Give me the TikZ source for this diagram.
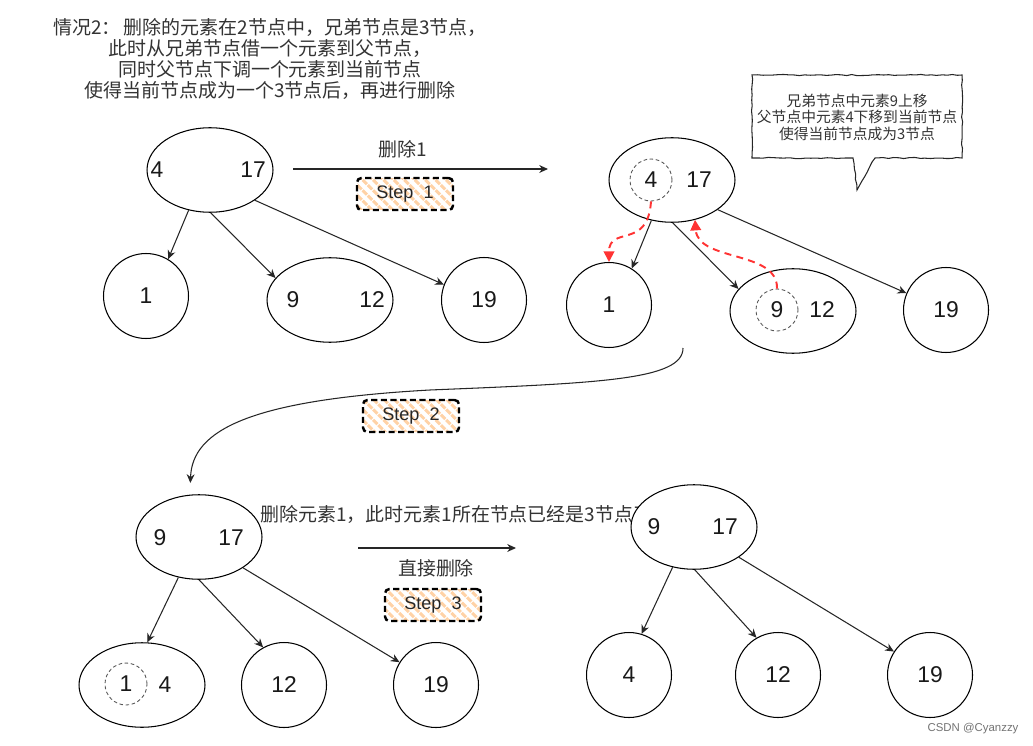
\documentclass[tikz,border=0pt]{standalone}
\usepackage{fontspec}
\setmainfont{Liberation Sans}
\newfontfamily\cjk{Noto Sans CJK SC}
\usetikzlibrary{positioning, shapes.geometric, arrows.meta, patterns.meta, decorations.pathmorphing}

\begin{document}
\begin{tikzpicture}[x=0.02cm, y=-0.02cm,
    big/.style={ellipse, draw, line width=0.6pt, fill=white,
      minimum width=2.52cm, minimum height=1.69cm},
    leaf/.style={circle, draw, line width=0.6pt, minimum size=1.7cm,
      font=\fontsize{13}{15}\selectfont, text=black!90},
    num/.style={font=\fontsize{13}{15}\selectfont, text=black!90, inner sep=0pt},
    ring/.style={circle, draw=black!65, dash pattern=on 2pt off 1.5pt,
      line width=0.5pt, minimum size=0.84cm, inner sep=0pt,
      font=\fontsize{13}{15}\selectfont, text=black!90},
    edge/.style={-{Stealth[length=5pt,width=4.5pt]}, line width=0.6pt, black!85},
    move/.style={-{Triangle[length=6pt,width=6pt]}, draw={rgb,255:red,255;green,51;blue,51},
      line width=1.1pt, dash pattern=on 4pt off 3pt},
    stepbox/.style={draw, rounded corners=2.5pt, line width=1.4pt,
      dash pattern=on 3.5pt off 2pt,
      minimum width=1.92cm, minimum height=0.64cm,
      pattern={Lines[angle=-45,distance=4.2pt,line width=1.7pt]},
      pattern color=orange!35,
      font=\fontsize{10.3}{12}\selectfont, text=black!85},
    cn/.style={font=\cjk\fontsize{10.8}{12}\selectfont, text=black!80},
  ]

    \useasboundingbox (0,0) rectangle (1033,746);

    \node[cn, align=center] (ttl) at (270,59)
      {情况2：\,删除的元素在2节点中，兄弟节点是3节点，\\
       此时从兄弟节点借一个元素到父节点，\\
       同时父节点下调一个元素到当前节点\\
       使得当前节点成为一个3节点后，再进行删除};

    \node[big] (r1) at (210,170) {};
      \node[num] (r1a) at (157,170) {4};
      \node[num] (r1b) at (253,170) {17};
    \node[leaf] (c1) at (146,296) {1};
    \node[big] (c2) at (330,300) {};
      \node[num] (c2a) at (293,300) {9};
      \node[num] (c2b) at (372,300) {12};
    \node[leaf] (c3) at (484,300) {19};

      \draw[edge] (r1.242) -- (c1.59);
      \draw[edge] (r1.271) -- (c2.158);
      \draw[edge] (r1.326) -- (c3.159);

    \coordinate (a1) at (293,169);
    \coordinate (b1) at (548,169);
      \draw[edge] (a1) -- (b1);
    \node[cn] (l1) at (403,149) {删除1};
    \node[stepbox] (s1) at (405,194) {Step\ \ 1};

    \draw[decorate, decoration={random steps, segment length=3pt, amplitude=0.35pt},
      line width=0.6pt, black!85]
      (752,75) -- (962,75) -- (962,158) -- (875,158) -- (857,190)
      -- (853,158) -- (752,158) -- cycle;
    \node[cn, align=center, font=\cjk\fontsize{8.4}{9.4}\selectfont] (note) at (857,117)
      {兄弟节点中元素9上移\\父节点中元素4下移到当前节点\\使得当前节点成为3节点};

    \node[big] (r2) at (672,180) {};
      \node[ring] (p4) at (651,180) {4};
      \node[num] (r2b) at (699,180) {17};
    \node[leaf] (d1) at (609,305) {1};
    \node[big] (d2) at (793,311) {};
      \node[ring] (p9) at (777,310) {9};
      \node[num] (d2b) at (822,310) {12};
    \node[leaf] (d3) at (946,310) {19};

      \draw[edge] (r2.243) -- (d1.58);
      \draw[edge] (r2.271) -- (d2.158);
      \draw[edge] (r2.327) -- (d3.157);

      \draw[move] (p4.south) .. controls (648,250) and (609,225) .. (d1.north);
      \draw[move] (p9.north) .. controls (778,250) and (698,262) .. (r2.-60);

    \coordinate (cs) at (683,348);
      \draw[edge, shorten >=0.24cm] (cs) .. controls (683,380) and (600,383) .. (430,390)
        .. controls (250,400) and (192,430) .. (190,495);
    \node[stepbox] (s2) at (411,416) {Step\ \ 2};

    \node[cn, anchor=west] (t3) at (254,514) {删除元素1，此时元素1所在节点已经是3节点了};

    \node[big] (r3) at (199,537) {};
      \node[num] (r3a) at (160,538) {9};
      \node[num] (r3b) at (231,538) {17};
    \node[big] (e1) at (142,685) {};
      \node[ring] (p1) at (126,684) {1};
      \node[num] (e1b) at (165,685) {4};
    \node[leaf] (e2) at (284,685) {12};
    \node[leaf] (e3) at (436,685) {19};

      \draw[edge] (r3.243) -- (e1.83);
      \draw[edge] (r3.270) -- (e2.119);
      \draw[edge] (r3.325) -- (e3.148);

    \coordinate (a3) at (358,548);
    \coordinate (b3) at (516,548);
      \draw[edge] (a3) -- (b3);
    \node[cn] (l3) at (436,568) {直接删除};
    \node[stepbox] (s3) at (433,605) {Step\ \ 3};

    \node[big] (r4) at (694,527) {};
      \node[num] (r4a) at (654,527) {9};
      \node[num] (r4b) at (725,527) {17};
    \node[leaf] (f1) at (629,675) {4};
    \node[leaf] (f2) at (778,675) {12};
    \node[leaf] (f3) at (930,675) {19};

      \draw[edge] (r4.242) -- (f1.73);
      \draw[edge] (r4.271) -- (f2.120);
      \draw[edge] (r4.326) -- (f3.147);

    \node[font=\fontsize{6.5}{8}\selectfont, text=black!55] (wm) at (973,729) {CSDN @Cyanzzy};

\end{tikzpicture}
\end{document}
